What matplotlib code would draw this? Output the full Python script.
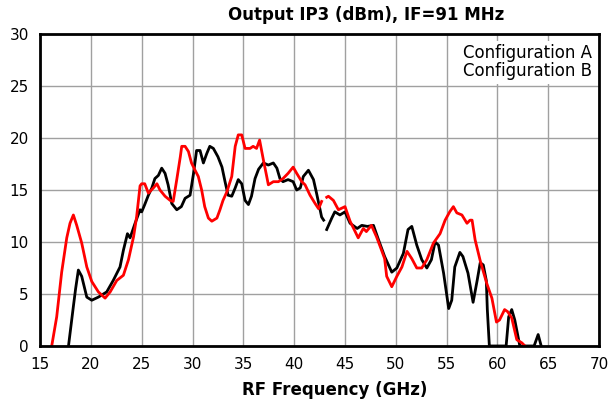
import numpy as np
import matplotlib
matplotlib.use("Agg")
import matplotlib.pyplot as plt

# Configuration A (black) - RF frequency (GHz) / OIP3 (dBm)
freq_a = [17.8, 18.28, 18.5, 18.77, 19.1, 19.6, 20.09, 20.74, 21.56, 22.2, 22.87, 23.2, 23.6, 23.86,
          24.35, 24.84, 25.0, 25.3, 25.66, 26.0, 26.3, 26.64, 26.97, 27.3, 27.6, 27.96, 28.45, 28.9,
          29.27, 29.76, 30.1, 30.4, 30.74, 31.07, 31.4, 31.7, 32.05, 32.5, 32.9, 33.2, 33.5, 33.86,
          34.2, 34.5, 34.84, 35.17, 35.5, 35.8, 36.15, 36.5, 36.97, 37.46, 37.95, 38.3, 38.6, 38.9,
          39.4, 39.9, 40.25, 40.6, 40.9, 41.4, 41.9, 42.2, 42.55, 42.7, 42.9, 43.05, 43.2, 43.7,
          44.0, 44.5, 45.0, 45.5, 46.2, 46.65, 47.2, 47.8, 48.3, 48.9, 49.6, 50.1, 50.74, 51.2,
          51.57, 52.06, 52.55, 53.05, 53.5, 53.86, 54.2, 54.7, 55.2, 55.5, 55.8, 56.3, 56.6, 57.1,
          57.6, 58.0, 58.3, 58.6, 58.9, 59.0, 59.2, 60.85, 61.1, 61.4, 61.7, 62.2, 63.6, 64.0, 64.3]
oip3_a = [0, 3.8, 5.5, 7.3, 6.7, 4.7, 4.4, 4.7, 5.2, 6.3, 7.6, 9.2, 10.8, 10.4,
          11.8, 13.1, 12.9, 13.6, 14.5, 15.2, 16.1, 16.4, 17.1, 16.6, 15.5, 13.7, 13.1, 13.4,
          14.2, 14.5, 16.6, 18.8, 18.8, 17.6, 18.5, 19.2, 19.0, 18.2, 17.2, 15.8, 14.5, 14.4,
          15.2, 16.0, 15.6, 14.0, 13.6, 14.4, 16.1, 17.0, 17.6, 17.4, 17.6, 17.1, 16.1, 15.8,
          16.0, 15.8, 15.0, 15.2, 16.3, 16.9, 16.0, 14.7, 13.1, 12.4, 12.1, np.nan, 11.2, 12.3,
          12.9, 12.6, 12.9, 11.8, 11.3, 11.6, 11.5, 11.6, 10.2, 8.6, 7.1, 7.5, 8.9, 11.2,
          11.5, 9.7, 8.3, 7.5, 8.3, 10.0, 9.7, 7.0, 3.6, 4.4, 7.6, 9.0, 8.6, 7.0,
          4.2, 6.3, 8.0, 7.8, 6.3, 3.5, 0, 0, 2.8, 3.5, 2.5, 0, 0, 1.1, 0]

# Configuration B (red)
freq_b = [16.15, 16.64, 17.13, 17.63, 17.95, 18.28, 18.61, 19.1, 19.6, 20.09, 20.74, 21.4, 21.9,
          22.55, 23.2, 23.7, 24.2, 24.5, 24.84, 25.0, 25.3, 25.66, 26.15, 26.5, 26.8, 27.3, 27.8,
          28.1, 28.45, 28.8, 28.94, 29.27, 29.6, 29.9, 30.25, 30.57, 30.9, 31.2, 31.56, 31.9, 32.4,
          32.7, 33.0, 33.37, 33.86, 34.2, 34.5, 34.84, 35.17, 35.66, 35.96, 36.3, 36.6, 36.97,
          37.3, 37.46, 37.95, 38.45, 38.9, 39.4, 39.9, 40.25, 40.75, 41.07, 41.56, 42.06, 42.4,
          42.7, 42.9, 43.2, 43.37, 43.86, 44.35, 45.0, 45.5, 46.0, 46.3, 46.8, 47.1, 47.6, 48.1,
          48.6, 48.9, 49.1, 49.6, 50.1, 50.6, 51.1, 51.57, 52.06, 52.55, 53.05, 53.7, 54.35,
          54.85, 55.3, 55.66, 56.0, 56.5, 57.0, 57.3, 57.5, 57.8, 58.3, 58.95, 59.45, 59.9, 60.2,
          60.7, 61.0, 61.4, 61.9, 62.4, 62.7]
oip3_b = [0, 2.8, 7.1, 10.4, 11.8, 12.6, 11.6, 9.9, 7.6, 6.2, 5.2, 4.6, 5.2,
          6.3, 6.8, 8.3, 10.5, 12.4, 15.4, 15.6, 15.6, 14.7, 15.2, 15.6, 15.0, 14.4, 14.0,
          13.9, 16.0, 18.2, 19.2, 19.2, 18.7, 17.6, 16.9, 16.3, 15.0, 13.4, 12.3, 12.0, 12.3,
          13.1, 14.0, 14.8, 16.3, 19.2, 20.3, 20.3, 19.0, 19.0, 19.2, 19.0, 19.8, 17.9,
          16.3, 15.5, 15.8, 15.8, 16.1, 16.6, 17.2, 16.6, 15.8, 15.5, 14.5, 13.7, 13.2,
          13.9, np.nan, 14.3, 14.4, 14.0, 13.1, 13.4, 12.0, 11.0, 10.4, 11.3, 11.0, 11.6, 10.5,
          9.2, 8.4, 6.7, 5.7, 6.7, 7.6, 9.1, 8.4, 7.5, 7.5, 8.3, 9.9, 10.8,
          12.1, 12.9, 13.4, 12.8, 12.6, 11.8, 12.1, 12.1, 10.2, 8.2, 6.0, 4.6, 2.3, 2.5,
          3.5, 3.3, 2.7, 0.6, 0.3, 0]

fig = plt.figure(figsize=(6.12, 4.04), dpi=100)
ax = fig.add_axes([0.0654, 0.1436, 0.9136, 0.7722])

ax.plot(freq_a, oip3_a, color="black", lw=2, label="Configuration A")
ax.plot(freq_b, oip3_b, color="#ff0000", lw=2, label="Configuration B")

ax.set_xlim(15, 70)
ax.set_ylim(0, 30)
ax.set_xticks(range(15, 71, 5))
ax.set_yticks(range(0, 31, 5))
ax.grid(True, color="#a0a0a0", lw=1)
ax.set_axisbelow(True)
ax.tick_params(length=0, labelsize=11, pad=8)
for sp in ax.spines.values():
    sp.set_linewidth(2)

# title and axis label sit off-centre in the original
fig.text(366 / 612, 1 - 15 / 404, "Output IP3 (dBm), IF=91 MHz", fontsize=12,
         fontweight="bold", ha="center", va="center")
fig.text(335 / 612, 1 - 390 / 404, "RF Frequency (GHz)", fontsize=12,
         fontweight="bold", ha="center", va="center")

leg = ax.legend(loc="upper right", bbox_to_anchor=(0.993, 0.978), frameon=True,
                handlelength=0, handletextpad=0, fontsize=12, borderaxespad=0.0,
                labelspacing=0.0, borderpad=0.2, fancybox=False, framealpha=1)
leg.get_frame().set_edgecolor("none")
leg.get_frame().set_facecolor("white")
for h in leg.legend_handles:
    h.set_visible(False)

fig.savefig("out.png", dpi=100)
